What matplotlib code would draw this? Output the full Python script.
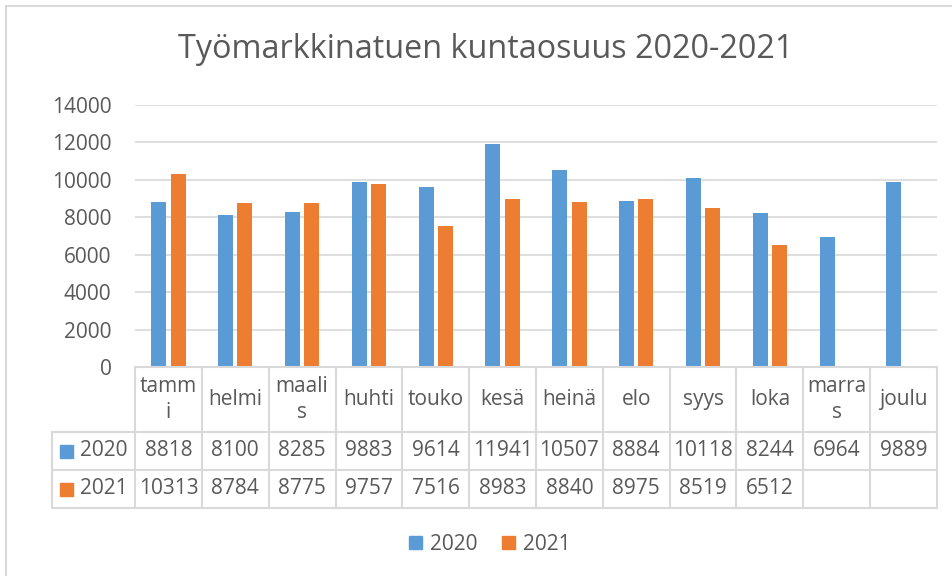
import numpy as np
import matplotlib.pyplot as plt
from matplotlib.patches import Patch, Rectangle
from matplotlib.lines import Line2D
from matplotlib.transforms import blended_transform_factory

plt.rcParams['font.family'] = ['Open Sans', 'DejaVu Sans']

months = ['tammi', 'helmi', 'maalis', 'huhti', 'touko', 'kesä', 'heinä',
          'elo', 'syys', 'loka', 'marras', 'joulu']
month_labels = ['tamm\ni', 'helmi', 'maali\ns', 'huhti', 'touko', 'kesä', 'heinä',
                'elo', 'syys', 'loka', 'marra\ns', 'joulu']
v2020 = [8818, 8100, 8285, 9883, 9614, 11941, 10507, 8884, 10118, 8244, 6964, 9889]
v2021 = [10313, 8784, 8775, 9757, 7516, 8983, 8840, 8975, 8519, 6512, None, None]
series = ['2020', '2021']
colors = ['#5B9BD5', '#ED7D31']

W, H = 952, 576
fig = plt.figure(figsize=(W / 100, H / 100), dpi=100)
txt = '#595959'
grid_c = '#D9D9D9'

def fy(p):
    return 1 - p / H

left, right, top, bottom = 135, 937, 105, 367
ax = fig.add_axes([left / W, fy(bottom), (right - left) / W, (bottom - top) / H])

x = np.arange(len(months))
w = 0.225
off = 0.145
y2021 = np.array([np.nan if v is None else v for v in v2021], dtype=float)
ax.bar(x - off, v2020, w, color=colors[0])
ax.bar(x + off, y2021, w, color=colors[1])

ax.set_xlim(-0.5, len(months) - 0.5)
ax.set_ylim(0, 14000)
ax.set_yticks(np.arange(0, 14001, 2000))
ax.set_xticks([])
ax.tick_params(axis='y', length=0, pad=17, labelsize=15, labelcolor=txt)
ax.grid(axis='y', color=grid_c, linewidth=1.2)
ax.set_axisbelow(True)
for s in ax.spines.values():
    s.set_visible(False)

# data table under the plot
tr = blended_transform_factory(ax.transData, fig.transFigure)
row_y = [bottom, 432, 470, 508]
lab_left = 52
fs = 15
# horizontal lines
fig.add_artist(Line2D([left / W, right / W], [fy(bottom)] * 2, color=grid_c, lw=1.5,
                      transform=fig.transFigure))
for yy in row_y[1:]:
    fig.add_artist(Line2D([lab_left / W, right / W], [fy(yy)] * 2, color=grid_c, lw=1.5,
                          transform=fig.transFigure))
# vertical lines
for b in np.arange(-0.5, len(months), 1.0):
    ax.add_artist(Line2D([b, b], [fy(bottom), fy(row_y[-1])], color=grid_c, lw=1.5,
                         transform=tr, clip_on=False))
fig.add_artist(Line2D([lab_left / W] * 2, [fy(row_y[1]), fy(row_y[-1])], color=grid_c, lw=1.5,
                      transform=fig.transFigure))

hy = (row_y[0] + row_y[1]) / 2
for i, lab in enumerate(month_labels):
    ax.text(i, fy(hy), lab, transform=tr, ha='center', va='center', fontsize=fs,
            color=txt, linespacing=1.25)

for r, (name, vals, c) in enumerate(zip(series, [v2020, v2021], colors)):
    cy = (row_y[r + 1] + row_y[r + 2]) / 2
    fig.add_artist(Rectangle((60 / W, fy(cy + 6.5)), 13 / W, 13 / H, color=c,
                             transform=fig.transFigure))
    fig.text(80 / W, fy(cy), name, ha='left', va='center', fontsize=fs, color=txt)
    for i, v in enumerate(vals):
        if v is None:
            continue
        ax.text(i, fy(cy), str(v), transform=tr, ha='center', va='center',
                fontsize=fs, color=txt)

fig.suptitle('Työmarkkinatuen kuntaosuus 2020-2021', x=486 / W, y=fy(50), va='center',
             fontsize=23.3, color=txt)

handles = [Patch(color=c, label=s) for s, c in zip(series, colors)]
fig.legend(handles=handles, loc='center', bbox_to_anchor=(490 / W, fy(544)), ncol=2,
           frameon=False, fontsize=fs, labelcolor=txt, handlelength=0.6, handleheight=0.6,
           handletextpad=0.4, columnspacing=1.2)

fig.add_artist(Rectangle((6 / W, -0.1), 1.2, fy(6) + 0.1, fill=False, edgecolor=grid_c,
                         lw=1.5, transform=fig.transFigure))

plt.savefig('out.png', dpi=100)
